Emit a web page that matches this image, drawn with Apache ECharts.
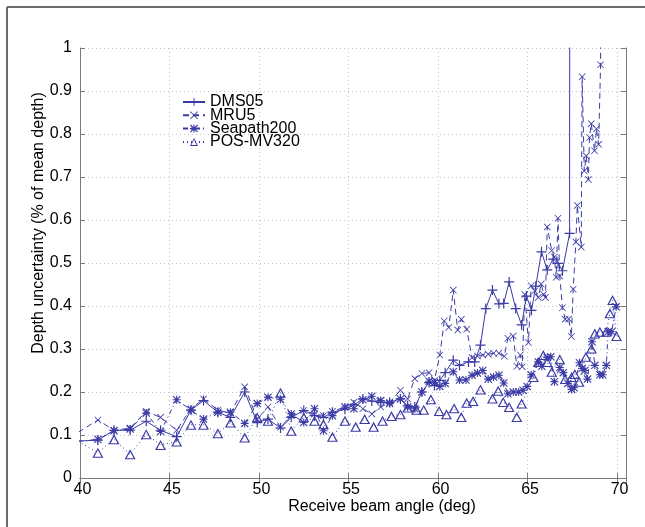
<!DOCTYPE html>
<html><head><meta charset="utf-8">
<script src="https://cdn.jsdelivr.net/npm/echarts/dist/echarts.min.js"></script>
<style>html,body{margin:0;padding:0;background:#fff}#c{width:645px;height:527px}</style>
</head><body><div id="c"></div>
<script>
// ---- data ----
const seriesNames = ['DMS05', 'MRU5', 'Seapath200', 'POS-MV320'];
const xTickValues = [40, 45, 50, 55, 60, 65, 70];
const yTickValues = [0, 0.1, 0.2, 0.3, 0.4, 0.5, 0.6, 0.7, 0.8, 0.9, 1];

const dmsAngles = [39.9,41.0,41.9,42.8,43.7,44.5,45.4,46.2,46.9,47.7,48.4,49.2,49.9,50.5,51.2,51.8,52.5,53.1,53.6,54.1,54.8,55.3,55.8,56.3,56.8,57.3,57.9,58.3,58.7,59.1,59.5,59.8,60.1,60.4,60.85,61.2,61.7,62.05,62.37,62.67,63.04,63.4,63.67,63.97,64.34,64.67,64.94,65.22,65.46,65.78,66.1,66.43,66.7,66.95,67.35,67.4];
const dmsValues = [0.086,0.088,0.111,0.111,0.132,0.111,0.096,0.158,0.180,0.153,0.141,0.200,0.129,0.137,0.116,0.141,0.157,0.145,0.141,0.153,0.160,0.170,0.184,0.179,0.176,0.176,0.184,0.168,0.165,0.200,0.222,0.215,0.227,0.245,0.274,0.262,0.270,0.270,0.309,0.394,0.437,0.405,0.406,0.456,0.394,0.356,0.423,0.390,0.446,0.526,0.484,0.509,0.499,0.482,0.569,6.0];

const mruAngles = [39.9,41.0,41.9,42.8,43.7,44.5,45.4,46.2,46.9,47.7,48.4,49.2,49.9,50.5,51.2,51.8,52.5,53.1,53.6,54.1,54.8,55.3,55.8,56.3,56.8,57.3,57.9,58.3,58.7,59.1,59.5,59.8,60.1,60.35,60.6,60.85,61.1,61.3,61.6,61.9,62.2,62.5,62.8,63.1,63.4,63.7,63.9,64.2,64.4,64.6,64.7,64.85,65.05,65.2,65.4,65.6,65.76,65.9,66.0,66.1,66.35,66.5,66.6,66.7,66.8,66.95,67.1,67.3,67.45,67.55,67.7,67.78,68.0,68.05,68.17,68.28,68.4,68.46,68.56,68.74,68.85,68.97,69.08,69.12];
const mruValues = [0.106,0.135,0.111,0.116,0.155,0.141,0.111,0.161,0.184,0.158,0.151,0.212,0.137,0.165,0.118,0.145,0.157,0.149,0.145,0.155,0.165,0.176,0.161,0.149,0.165,0.176,0.204,0.184,0.231,0.243,0.245,0.227,0.286,0.365,0.350,0.437,0.344,0.369,0.346,0.280,0.284,0.286,0.288,0.290,0.290,0.283,0.325,0.330,0.260,0.286,0.259,0.427,0.315,0.447,0.435,0.420,0.451,0.427,0.420,0.584,0.529,0.514,0.467,0.604,0.470,0.396,0.369,0.370,0.329,0.439,0.549,0.634,0.537,0.933,0.714,0.749,0.694,0.792,0.824,0.761,0.812,0.776,0.961,4.0];

const seaAngles = [39.9,41.0,41.9,42.8,43.7,44.5,45.4,46.2,46.9,47.7,48.4,49.2,49.9,50.5,51.2,51.8,52.5,53.1,53.6,54.1,54.8,55.3,55.8,56.3,56.8,57.3,57.9,58.3,58.7,59.1,59.5,59.8,60.1,60.4,60.85,61.2,61.56,61.9,62.2,62.5,62.8,63.1,63.4,63.67,63.9,64.2,64.5,64.75,64.98,65.2,65.6,65.8,66.1,66.3,66.5,66.8,67.0,67.25,67.46,67.6,67.9,68.05,68.2,68.35,68.6,68.76,69.04,69.2,69.4,69.5,69.7,69.95];
const seaValues = [0.085,0.090,0.110,0.114,0.151,0.108,0.182,0.158,0.137,0.153,0.153,0.127,0.173,0.188,0.183,0.149,0.129,0.161,0.110,0.145,0.165,0.161,0.182,0.190,0.180,0.173,0.184,0.165,0.161,0.200,0.225,0.222,0.213,0.220,0.247,0.228,0.228,0.239,0.244,0.250,0.230,0.235,0.239,0.221,0.196,0.200,0.200,0.204,0.213,0.240,0.270,0.260,0.280,0.282,0.224,0.257,0.245,0.220,0.206,0.210,0.268,0.255,0.250,0.230,0.317,0.262,0.240,0.240,0.262,0.340,0.340,0.398];

const posAngles = [39.9,41.0,41.9,42.8,43.7,44.5,45.4,46.2,46.9,47.7,48.4,49.2,49.9,50.5,51.2,51.8,52.5,53.1,53.6,54.1,54.8,55.4,55.9,56.4,56.9,57.4,57.9,58.3,58.8,59.2,59.6,60.06,60.47,60.9,61.3,61.6,61.96,62.37,63.04,63.36,63.64,63.97,64.4,64.67,65.33,65.6,65.88,66.1,66.35,66.8,67.1,67.46,67.64,67.88,68.26,68.57,68.76,69.04,69.4,69.6,69.75,69.97];
const posValues = [0.085,0.059,0.090,0.055,0.102,0.077,0.085,0.124,0.124,0.104,0.129,0.094,0.141,0.133,0.198,0.110,0.141,0.133,0.125,0.096,0.133,0.119,0.137,0.119,0.133,0.144,0.148,0.164,0.159,0.159,0.183,0.156,0.148,0.162,0.142,0.175,0.179,0.206,0.185,0.203,0.177,0.165,0.142,0.173,0.235,0.270,0.286,0.270,0.247,0.276,0.230,0.235,0.242,0.224,0.282,0.301,0.336,0.340,0.340,0.383,0.414,0.330];

// ---- build ----
const zip = (a, b) => a.slice(0, Math.min(a.length, b.length)).map((x, i) => [x, b[i]]);
const C = '#3b3ba6';
const FONT = '"Liberation Sans", Arial, Helvetica, sans-serif';
const PLUS = 'path://M4.4,0H5.6V4.4H10V5.6H5.6V10H4.4V5.6H0V4.4H4.4Z';
const CROSS = 'path://M0,0.8L0.8,0L5,4.2L9.2,0L10,0.8L5.8,5L10,9.2L9.2,10L5,5.8L0.8,10L0,9.2L4.2,5Z';
const STAR = 'path://M4.3,0H5.7V4.3H10V5.7H5.7V10H4.3V5.7H0V4.3H4.3Z M1,0L10,9L9,10L0,1Z M9,0L10,1L1,10L0,9Z M3,3H7V7H3Z';
const TRI = 'path://M5,0L10,9L0,9Z M5,2.2L1.8,8.1L8.2,8.1Z';

function mk(name, data, symbol, size, lineType) {
  return {
    name, type: 'line', data, symbol, symbolSize: size, showSymbol: true,
    clip: true, animation: false,
    lineStyle: { color: C, width: 1, type: lineType },
    itemStyle: { color: C, borderWidth: 0 },
    emphasis: { disabled: true }
  };
}

const chart = echarts.init(document.getElementById('c'), null, { renderer: 'canvas' });
const axisColor = '#7a7a7a';
const grid = { left: 80, top: 48, width: 546, height: 430 };
const yLabelSet = new Set(yTickValues.map(v => v.toFixed(1)));
const xLabelSet = new Set(xTickValues);

chart.setOption({
  backgroundColor: '#fff',
  animation: false,
  grid,
  xAxis: [{
    type: 'value', min: 40, max: 70.5, interval: 5, position: 'bottom',
    axisLine: { show: true, lineStyle: { color: axisColor, width: 1 } },
    axisTick: { show: true, inside: true, length: 5, lineStyle: { color: axisColor } },
    axisLabel: { color: '#000', fontSize: 16, fontFamily: FONT, margin: 4, padding: [0, 0, 0, 5],
      formatter: v => (xLabelSet.has(v) ? String(v) : '') },
    splitLine: { show: true, lineStyle: { color: '#c4c4c4', type: [1, 3], width: 1 } }
  }, {
    type: 'value', min: 40, max: 70.5, interval: 5, position: 'top',
    axisLine: { show: true, lineStyle: { color: axisColor, width: 1 } },
    axisTick: { show: true, inside: true, length: 5, lineStyle: { color: axisColor } },
    axisLabel: { show: false }, splitLine: { show: false }
  }],
  yAxis: [{
    type: 'value', min: 0, max: 1, interval: 0.1, position: 'left',
    axisLine: { show: true, lineStyle: { color: axisColor, width: 1 } },
    axisTick: { show: true, inside: true, length: 5, lineStyle: { color: axisColor } },
    axisLabel: { color: '#000', fontSize: 16, fontFamily: FONT, margin: 8,
      formatter: v => (yLabelSet.has(v.toFixed(1)) ? String(+v.toFixed(1)) : '') },
    splitLine: { show: true, lineStyle: { color: '#c4c4c4', type: [1, 3], width: 1 } }
  }, {
    type: 'value', min: 0, max: 1, interval: 0.1, position: 'right',
    axisLine: { show: true, lineStyle: { color: axisColor, width: 1 } },
    axisTick: { show: true, inside: true, length: 5, lineStyle: { color: axisColor } },
    axisLabel: { show: false }, splitLine: { show: false }
  }],
  legend: {
    orient: 'vertical', left: 177, top: 89, itemWidth: 22, itemHeight: 10, itemGap: -2.7,
    selectedMode: false, data: seriesNames,
    textStyle: { color: '#000', fontSize: 16, fontFamily: FONT }
  },
  series: [
    mk(seriesNames[0], zip(dmsAngles, dmsValues), PLUS, 10, 'solid'),
    mk(seriesNames[1], zip(mruAngles, mruValues), CROSS, 7, [6, 4]),
    mk(seriesNames[2], zip(seaAngles, seaValues), STAR, 8, [5, 3, 1, 3]),
    mk(seriesNames[3], zip(posAngles, posValues), TRI, [11, 10], [1, 3])
  ],
  graphic: [
    { type: 'line', shape: { x1: 7, y1: 7, x2: 645, y2: 7 }, style: { stroke: '#6b6b6b', lineWidth: 2 } },
    { type: 'line', shape: { x1: 7, y1: 7, x2: 7, y2: 527 }, style: { stroke: '#6b6b6b', lineWidth: 2 } },
    { type: 'text', x: 382, y: 507, style: { text: 'Receive beam angle (deg)', fill: '#000', font: '16px ' + FONT, textAlign: 'center', textVerticalAlign: 'middle' } },
    { type: 'text', x: 39, y: 223, rotation: Math.PI / 2, style: { text: 'Depth uncertainty (% of mean depth)', fill: '#000', font: '16px ' + FONT, textAlign: 'center', textVerticalAlign: 'middle' } }
  ]
});
</script>
</body></html>
